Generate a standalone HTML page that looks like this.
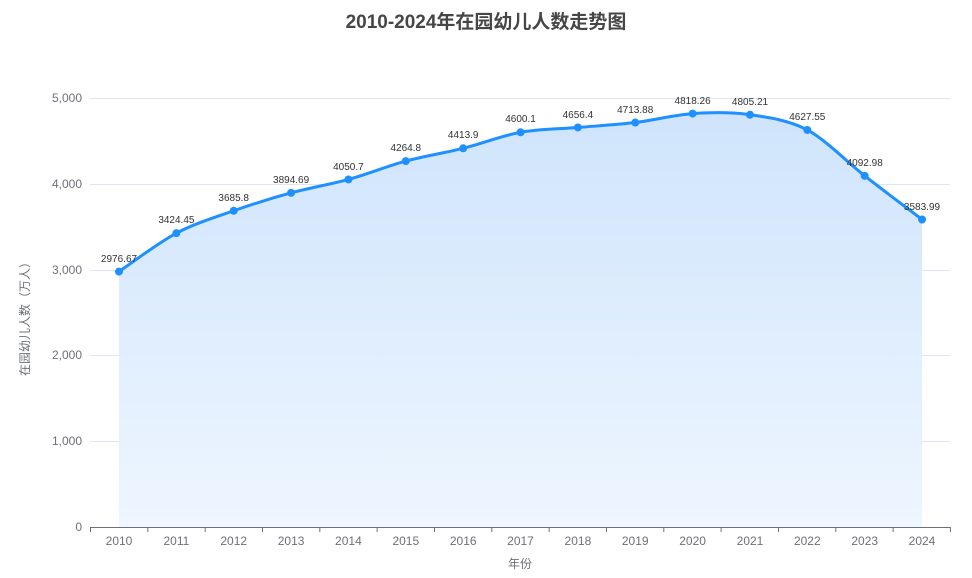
<!DOCTYPE html>
<html><head><meta charset="utf-8"><style>
html,body{margin:0;padding:0;background:#fff;}
svg{display:block;font-family:"Liberation Sans","Noto Sans CJK SC",sans-serif;}
</style></head><body>
<svg id="s" width="972" height="578" viewBox="0 0 972 578">
<defs><linearGradient id="g" x1="0" y1="0" x2="0" y2="1">
<stop offset="0" stop-color="#cfe4fc"/><stop offset="1" stop-color="#eef6ff"/></linearGradient></defs>
<text x="486" y="28" text-anchor="middle" font-size="19" font-weight="bold" fill="#464646">2010-2024年在园幼儿人数走势图</text>
<g stroke="#e0e6f1" stroke-width="1">
<line x1="90" x2="950" y1="98.5" y2="98.5"/><line x1="90" x2="950" y1="184.5" y2="184.5"/>
<line x1="90" x2="950" y1="270.5" y2="270.5"/><line x1="90" x2="950" y1="355.5" y2="355.5"/>
<line x1="90" x2="950" y1="441.5" y2="441.5"/>
</g>
<g font-size="12" fill="#6e7079" text-anchor="end">
<text x="82" y="102">5,000</text><text x="82" y="188">4,000</text><text x="82" y="274">3,000</text>
<text x="82" y="359">2,000</text><text x="82" y="445">1,000</text><text x="82" y="531">0</text>
</g>
<text transform="translate(29,316) rotate(-90)" text-anchor="middle" font-size="12" fill="#6e7079">在园幼儿人数（万人）</text>
<path id="area" fill="url(#g)" stroke="none"/>
<path id="line" fill="none" stroke="#1e90ff" stroke-width="3"/>
<line x1="90" x2="950" y1="527.5" y2="527.5" stroke="#6e7079"/>
<g id="ticks" stroke="#6e7079"></g>
<g font-size="12" fill="#6e7079" text-anchor="middle">
<text x="119" y="545">2010</text><text x="176.4" y="545">2011</text><text x="233.7" y="545">2012</text>
<text x="291.1" y="545">2013</text><text x="348.4" y="545">2014</text><text x="405.8" y="545">2015</text>
<text x="463.2" y="545">2016</text><text x="520.5" y="545">2017</text><text x="577.9" y="545">2018</text>
<text x="635.2" y="545">2019</text><text x="692.6" y="545">2020</text><text x="750" y="545">2021</text>
<text x="807.3" y="545">2022</text><text x="864.7" y="545">2023</text><text x="922" y="545">2024</text>
<text x="520" y="568">年份</text>
</g>
<g id="dots" fill="#1e90ff"></g>
<g font-size="10" fill="#333" text-anchor="middle">
<text x="119" y="262">2976.67</text><text x="176.4" y="223">3424.45</text><text x="233.7" y="201">3685.8</text>
<text x="291.1" y="183">3894.69</text><text x="348.4" y="170">4050.7</text><text x="405.8" y="151">4264.8</text>
<text x="463.2" y="138">4413.9</text><text x="520.5" y="122">4600.1</text><text x="577.9" y="118">4656.4</text>
<text x="635.2" y="113">4713.88</text><text x="692.6" y="104">4818.26</text><text x="750" y="105">4805.21</text>
<text x="807.3" y="120">4627.55</text><text x="864.7" y="166">4092.98</text><text x="922" y="210">3583.99</text>
</g>
</svg>
<script>
var v=[2976.67,3424.45,3685.8,3894.69,4050.7,4264.8,4413.9,4600.1,4656.4,4713.88,4818.26,4805.21,4627.55,4092.98,3583.99];
var p=v.map(function(a,i){return [119+i*57.36,527-a*0.0858];});
var d="M"+p[0][0]+","+p[0][1];
for(var i=0;i<p.length-1;i++){
 var p0=p[Math.max(i-1,0)],p1=p[i],p2=p[i+1],p3=p[Math.min(i+2,p.length-1)];
 var t=0.16;
 d+=" C"+(p1[0]+(p2[0]-p0[0])*t)+","+(p1[1]+(p2[1]-p0[1])*t)+" "+(p2[0]-(p3[0]-p1[0])*t)+","+(p2[1]-(p3[1]-p1[1])*t)+" "+p2[0]+","+p2[1];
}
document.getElementById("line").setAttribute("d",d);
document.getElementById("area").setAttribute("d",d+" L922,527 L119,527 Z");
var ns="http://www.w3.org/2000/svg",g=document.getElementById("dots");
p.forEach(function(q){var c=document.createElementNS(ns,"circle");c.setAttribute("cx",q[0]);c.setAttribute("cy",q[1]);c.setAttribute("r",4);g.appendChild(c);});
var tk=document.getElementById("ticks");
for(var i=0;i<=15;i++){var x=90.5+i*57.33;var l=document.createElementNS(ns,"line");l.setAttribute("x1",x);l.setAttribute("x2",x);l.setAttribute("y1",527);l.setAttribute("y2",532);tk.appendChild(l);}
</script>
</body></html>
